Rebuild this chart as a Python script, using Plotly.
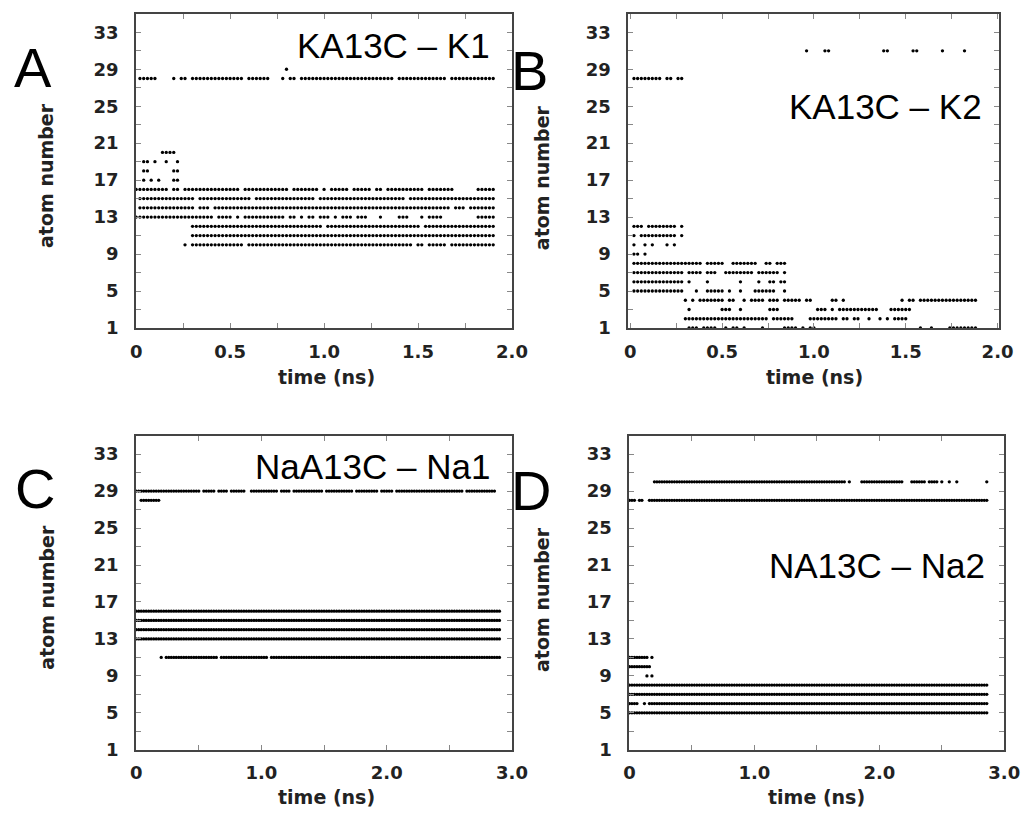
import numpy as np
import plotly.graph_objects as go

W, H = 1033, 825
DT = 0.02  # sampling interval of the contact record (ns)

# ---------------- data: atom rows and runs of contact (start, end) in ns ----------------
A_atoms = [29, 28, 20, 19, 18, 17, 16, 15, 14, 13, 12, 11, 10]
A_spans = [
    [(0.80, 0.80)],
    [(0.02, 0.10), (0.20, 0.20), (0.24, 0.26), (0.30, 0.56), (0.60, 0.70), (0.78, 0.78),
     (0.82, 0.84), (0.88, 1.36), (1.40, 1.58), (1.60, 1.64), (1.68, 1.90)],
    [(0.14, 0.20)],
    [(0.04, 0.06), (0.10, 0.10), (0.16, 0.16), (0.22, 0.22)],
    [(0.04, 0.06), (0.20, 0.22)],
    [(0.04, 0.04), (0.08, 0.08), (0.12, 0.12), (0.20, 0.22)],
    [(0.00, 0.16), (0.20, 0.22), (0.26, 0.54), (0.58, 0.80), (0.84, 0.96), (1.00, 1.00),
     (1.04, 1.12), (1.16, 1.22), (1.24, 1.24), (1.28, 1.28), (1.30, 1.30), (1.34, 1.52),
     (1.56, 1.66), (1.68, 1.68), (1.82, 1.90)],
    [(0.02, 0.30), (0.34, 0.60), (0.64, 0.78), (0.80, 0.88), (0.90, 0.94), (0.98, 1.32),
     (1.34, 1.42), (1.46, 1.90)],
    [(0.02, 0.30), (0.34, 0.38), (0.42, 1.66), (1.70, 1.74), (1.78, 1.90)],
    [(0.00, 0.40), (0.44, 0.50), (0.54, 0.54), (0.58, 0.66), (0.68, 0.78), (0.82, 0.84),
     (0.88, 0.88), (0.92, 0.94), (0.98, 1.02), (1.06, 1.06), (1.10, 1.14), (1.18, 1.22),
     (1.30, 1.30), (1.40, 1.44), (1.52, 1.52), (1.56, 1.62), (1.82, 1.90)],
    [(0.30, 0.98), (1.02, 1.50), (1.54, 1.90)],
    [(0.30, 1.90)],
    [(0.26, 0.26), (0.30, 0.56), (0.60, 1.46), (1.50, 1.52), (1.56, 1.64), (1.68, 1.90)],
]

B_atoms = [31, 28, 12, 11, 10, 9, 8, 7, 6, 5, 4, 3, 2, 1]
B_spans = [
    [(0.96, 0.96), (1.06, 1.08), (1.38, 1.40), (1.54, 1.56), (1.70, 1.70), (1.82, 1.82)],
    [(0.02, 0.16), (0.20, 0.22), (0.26, 0.28)],
    [(0.02, 0.06), (0.10, 0.24), (0.28, 0.28)],
    [(0.02, 0.02), (0.06, 0.24), (0.28, 0.28)],
    [(0.02, 0.02), (0.08, 0.08), (0.12, 0.12), (0.20, 0.20), (0.24, 0.24)],
    [(0.02, 0.04), (0.08, 0.08)],
    [(0.02, 0.38), (0.42, 0.50), (0.56, 0.62), (0.64, 0.68), (0.74, 0.76), (0.80, 0.84)],
    [(0.02, 0.06), (0.08, 0.28), (0.32, 0.38), (0.42, 0.46), (0.52, 0.58), (0.60, 0.66),
     (0.70, 0.80), (0.84, 0.84)],
    [(0.02, 0.28), (0.32, 0.32), (0.42, 0.42), (0.60, 0.60), (0.70, 0.70), (0.76, 0.78),
     (0.82, 0.84)],
    [(0.02, 0.28), (0.36, 0.36), (0.42, 0.50), (0.54, 0.54), (0.60, 0.60), (0.68, 0.78),
     (0.84, 0.84)],
    [(0.30, 0.30), (0.34, 0.34), (0.38, 0.50), (0.54, 0.56), (0.62, 0.62), (0.66, 0.72),
     (0.76, 0.80), (0.84, 0.92), (0.96, 0.98), (1.10, 1.12), (1.16, 1.16), (1.48, 1.48),
     (1.52, 1.54), (1.58, 1.88)],
    [(0.32, 0.32), (0.50, 0.54), (0.60, 0.60), (0.76, 0.80), (1.02, 1.06), (1.10, 1.10),
     (1.14, 1.34), (1.42, 1.52)],
    [(0.30, 0.74), (0.78, 0.88), (0.98, 1.12), (1.16, 1.18), (1.22, 1.24), (1.30, 1.30),
     (1.36, 1.36), (1.40, 1.40), (1.44, 1.50)],
    [(0.32, 0.36), (0.40, 0.46), (0.52, 0.52), (0.56, 0.56), (0.58, 0.58), (0.62, 0.62),
     (0.72, 0.72), (0.84, 0.90), (0.94, 0.94), (0.98, 1.00), (1.58, 1.58), (1.64, 1.64),
     (1.74, 1.88)],
]

C_atoms = [29, 28, 16, 15, 14, 13, 11]
C_spans = [
    [(0.00, 0.50), (0.54, 0.62), (0.66, 0.72), (0.76, 0.80), (0.82, 0.86), (0.92, 1.12),
     (1.16, 1.22), (1.26, 1.48), (1.52, 1.72), (1.76, 1.90), (1.92, 1.92), (1.96, 2.04),
     (2.08, 2.28), (2.30, 2.50), (2.52, 2.60), (2.64, 2.86)],
    [(0.04, 0.18)],
    [(0.00, 2.90)],
    [(0.00, 2.90)],
    [(0.00, 2.90)],
    [(0.00, 2.90)],
    [(0.20, 0.20), (0.24, 0.64), (0.68, 1.04), (1.08, 2.90)],
]

D_atoms = [30, 28, 11, 10, 9, 8, 7, 6, 5]
D_spans = [
    [(0.20, 1.72), (1.76, 1.76), (1.86, 2.16), (2.18, 2.18), (2.26, 2.34), (2.36, 2.36),
     (2.40, 2.46), (2.50, 2.50), (2.56, 2.56), (2.62, 2.62), (2.86, 2.86)],
    [(0.00, 0.04), (0.08, 0.10), (0.16, 2.86)],
    [(0.00, 0.14), (0.18, 0.18)],
    [(0.00, 0.16)],
    [(0.14, 0.14), (0.18, 0.18)],
    [(0.00, 2.86)],
    [(0.00, 2.86)],
    [(0.00, 0.06), (0.12, 0.12), (0.16, 2.86)],
    [(0.00, 2.86)],
]

titles = ["KA13C – K1", "KA13C – K2", "NaA13C – Na1", "NA13C – Na2"]
letters = ["A", "B", "C", "D"]
y_tickvals = list(range(1, 36, 2))
y_ticktext = [str(v) if (v - 1) % 4 == 0 and v <= 33 else "" for v in y_tickvals]
x_ticks_short = [0, 0.25, 0.5, 0.75, 1.0, 1.25, 1.5, 1.75, 2.0]
x_text_short = ["0", "", "0.5", "", "1.0", "", "1.5", "", "2.0"]
x_ticks_long = [0, 0.5, 1.0, 1.5, 2.0, 2.5, 3.0]
x_text_long = ["0", "", "1.0", "", "2.0", "", "3.0"]


def expand(atoms, spans):
    xs, ys = [], []
    for atom, runs in zip(atoms, spans):
        for s, e in runs:
            n0, n1 = int(round(s / DT)), int(round(e / DT))
            for k in range(n0, n1 + 1):
                xs.append(k * DT)
                ys.append(atom)
    return xs, ys


# ---------------- layout geometry (pixels) ----------------
panels = [
    dict(atoms=A_atoms, spans=A_spans, x0=133, x1=517, top=14, bot=332, xr=[0, 2.0],
         tv=x_ticks_short, tt=x_text_short),
    dict(atoms=B_atoms, spans=B_spans, x0=636, x1=1015, top=14, bot=332, xr=[-0.01, 2.01],
         tv=x_ticks_short, tt=x_text_short),
    dict(atoms=C_atoms, spans=C_spans, x0=133, x1=517, top=441, bot=759, xr=[0, 3.0],
         tv=x_ticks_long, tt=x_text_long),
    dict(atoms=D_atoms, spans=D_spans, x0=637, x1=1020, top=441, bot=759, xr=[0, 3.0],
         tv=x_ticks_long, tt=x_text_long),
]

fig = go.Figure()
tick_font = dict(family="DejaVu Sans", size=18, color="#222", weight="bold")
layout = dict(width=W, height=H, margin=dict(l=0, r=0, t=0, b=0),
              paper_bgcolor="white", plot_bgcolor="white", showlegend=False)
annotations = []

for i, p in enumerate(panels):
    sfx = "" if i == 0 else str(i + 1)
    xs, ys = expand(p["atoms"], p["spans"])
    fig.add_trace(go.Scatter(x=xs, y=ys, mode="markers", xaxis="x" + sfx, yaxis="y" + sfx,
                             marker=dict(size=3.3, color="black"), cliponaxis=False,
                             hoverinfo="skip"))
    layout["xaxis" + sfx] = dict(
        domain=[p["x0"] / W, p["x1"] / W], range=p["xr"], anchor="y" + sfx,
        showgrid=False, zeroline=False, showline=True, linecolor="#444", linewidth=2,
        mirror="ticks", ticks="inside", ticklen=5, tickwidth=1, tickcolor="#888",
        tickvals=p["tv"], ticktext=p["tt"], tickfont=tick_font, ticklabelstandoff=6)
    layout["yaxis" + sfx] = dict(
        domain=[1 - p["bot"] / H, 1 - p["top"] / H], range=[1, 35], anchor="x" + sfx,
        showgrid=False, zeroline=False, showline=True, linecolor="#444", linewidth=2,
        mirror="ticks", ticks="inside", ticklen=5, tickwidth=1, tickcolor="#888",
        tickvals=y_tickvals, ticktext=y_ticktext, tickfont=tick_font, ticklabelstandoff=12)

# panel letters
letter_pos = [(28, 68), (535, 71), (30, 494), (536, 497)]
for (px, py), t in zip(letter_pos, letters):
    annotations.append(dict(x=px / W, y=1 - py / H, xref="paper", yref="paper", text=t,
                            showarrow=False, xanchor="center", yanchor="middle",
                            font=dict(family="Liberation Sans", size=56, color="black")))

# inner titles (right edge, centre y)
title_pos = [(497, 46), (999, 108), (497, 472), (1002, 572)]
for (px, py), t in zip(title_pos, titles):
    annotations.append(dict(x=px / W, y=1 - py / H, xref="paper", yref="paper", text=t,
                            showarrow=False, xanchor="right", yanchor="middle",
                            font=dict(family="Liberation Sans", size=35, color="black")))

# axis titles
ylab_pos = [(41, 178), (547, 180), (42, 605), (547, 607)]
for px, py in ylab_pos:
    annotations.append(dict(x=px / W, y=1 - py / H, xref="paper", yref="paper",
                            text="atom number", textangle=-90, showarrow=False,
                            xanchor="center", yanchor="middle",
                            font=dict(family="DejaVu Sans", size=19, color="#222",
                                      weight="bold")))
xlab_pos = [(327, 382), (826, 382), (327, 807), (828, 807)]
for px, py in xlab_pos:
    annotations.append(dict(x=px / W, y=1 - py / H, xref="paper", yref="paper",
                            text="time (ns)", showarrow=False, xanchor="center",
                            yanchor="middle",
                            font=dict(family="DejaVu Sans", size=19, color="#222",
                                      weight="bold")))

layout["annotations"] = annotations
fig.update_layout(**layout)
page_js = ("document.documentElement.style.overflow='hidden';"
           "document.body.style.overflow='hidden';"
           "document.body.style.margin='0';document.body.style.padding='0';")
fig.write_html("out.html", config={"displayModeBar": False}, post_script=page_js)
